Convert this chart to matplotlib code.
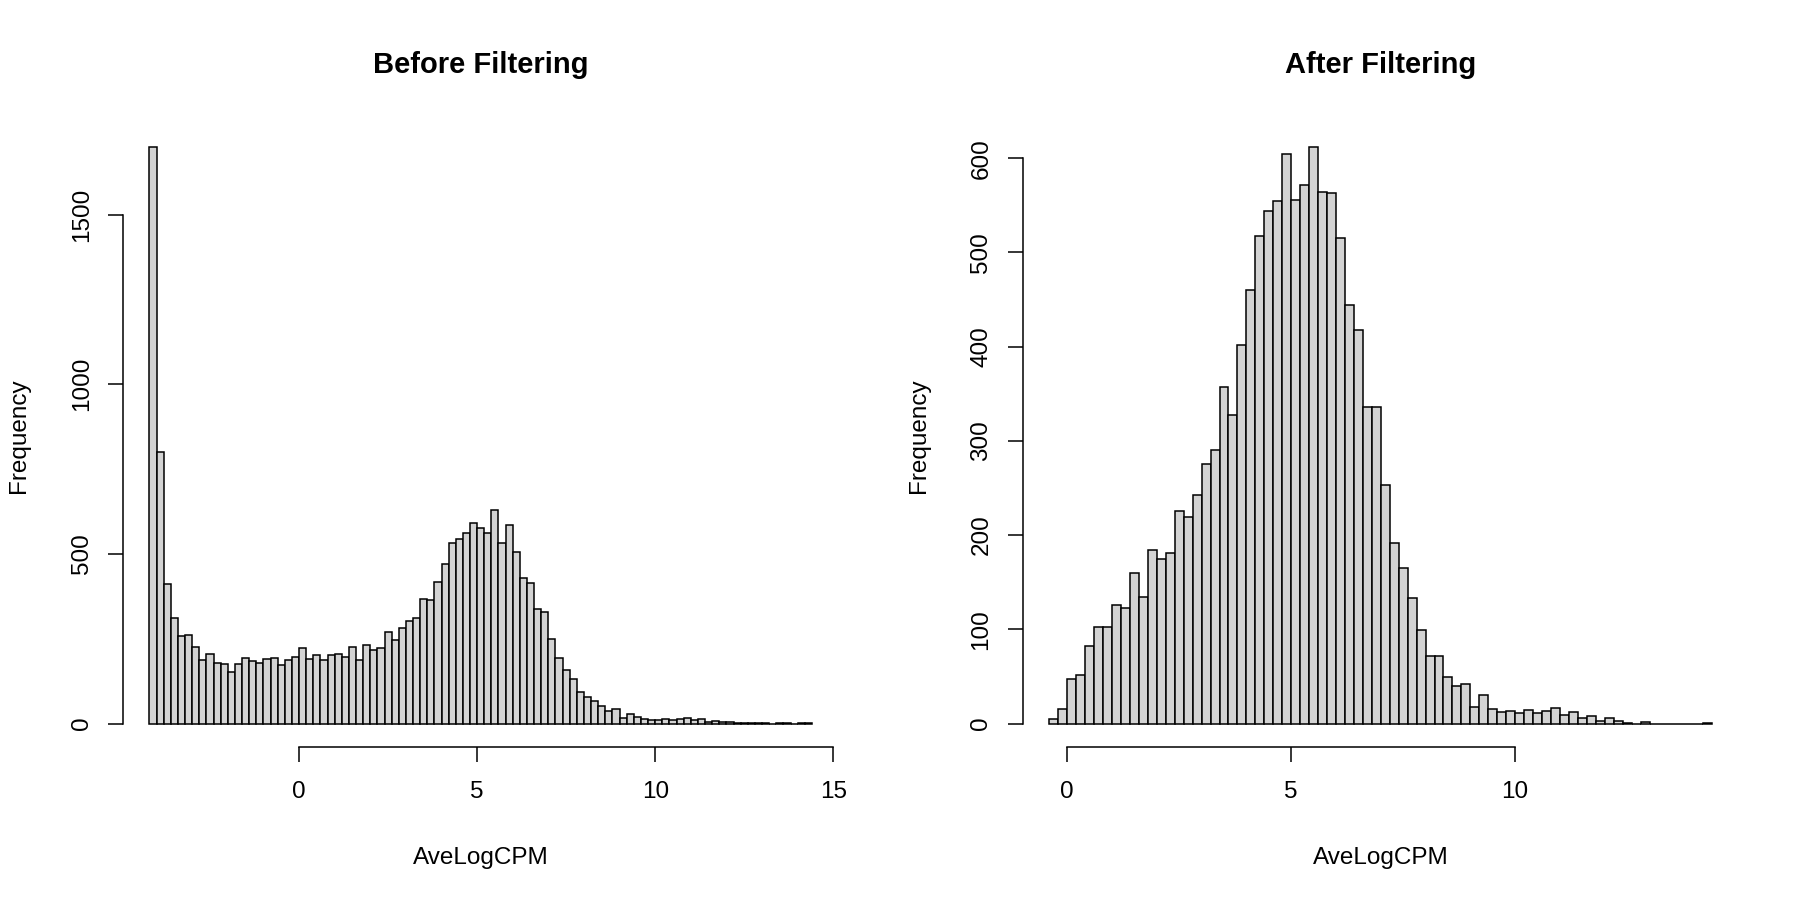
import numpy as np
import matplotlib
matplotlib.use("Agg")
import matplotlib.pyplot as plt

plt.rcParams['font.family'] = ['Liberation Sans', 'DejaVu Sans']

# histogram counts, bins of width 0.2
before_start = -4.2
before_counts = [1700, 800, 412, 312, 257, 260, 227, 188, 205, 178, 175, 151, 177, 192, 183, 180,
                 190, 192, 172, 187, 195, 224, 191, 201, 188, 202, 204, 196, 226, 188, 232, 218,
                 223, 270, 245, 283, 301, 312, 367, 364, 418, 470, 531, 545, 563, 592, 575, 563,
                 630, 533, 584, 505, 429, 415, 338, 330, 249, 193, 159, 131, 94, 77,
                 66, 51, 36, 42, 17, 27, 19, 13, 10, 10, 14, 10, 13, 16, 10, 13, 6, 9, 4, 6,
                 3, 2, 1, 3, 1, 0, 1, 1, 0, 1, 1]

after_start = -0.4
after_counts = [5, 15, 47, 52, 82, 103, 102, 126, 123, 160, 134, 184, 175, 181, 226, 219, 243,
                275, 290, 357, 327, 402, 460, 517, 544, 554, 604, 556, 571, 612, 564, 563, 515,
                444, 418, 336, 336, 253, 192, 165, 133, 99, 72, 72, 49, 40, 42, 18, 30, 15, 12,
                13, 11, 14, 11, 13, 17, 9, 12, 6, 8, 3, 6, 3, 1, 0, 2, 0, 0, 0, 0, 0, 0, 1]

bin_width = 0.2
before_xticks = [0, 5, 10, 15]
before_yticks = [0, 500, 1000, 1500]
after_xticks = [0, 5, 10]
after_yticks = [0, 100, 200, 300, 400, 500, 600]

titles = ["Before Filtering", "After Filtering"]

fig = plt.figure(figsize=(18, 9), dpi=100)
ax1 = fig.add_axes([0.0683, 0.1704, 0.3975, 0.6921])
ax2 = fig.add_axes([0.5682, 0.1704, 0.3978, 0.6921])

panels = [
    (ax1, before_start, before_counts, before_xticks, before_yticks, titles[0]),
    (ax2, after_start, after_counts, after_xticks, after_yticks, titles[1]),
]

for ax, start, counts, xt, yt, title in panels:
    counts = np.array(counts)
    left_edges = start + bin_width * np.arange(len(counts))
    ax.bar(left_edges, counts, width=bin_width, align='edge',
           color='#D3D3D3', edgecolor='black', linewidth=1.1)

    # R style 4% axis extension
    lo, hi = left_edges[0], left_edges[-1] + bin_width
    ext = 0.04 * (hi - lo)
    ax.set_xlim(lo - ext, hi + ext)
    ymax = counts.max()
    ax.set_ylim(-0.04 * ymax, 1.04 * ymax)

    for s in ['top', 'right']:
        ax.spines[s].set_visible(False)
    ax.spines['left'].set_bounds(yt[0], yt[-1])
    ax.spines['bottom'].set_bounds(xt[0], xt[-1])
    ax.spines['left'].set_linewidth(1.1)
    ax.spines['bottom'].set_linewidth(1.1)

    ax.set_xticks(xt)
    ax.set_yticks(yt)
    ax.set_yticklabels([str(v) for v in yt], rotation=90, va='center')
    ax.tick_params(direction='out', length=10.8, width=1.1, labelsize=17.5, pad=11)
    ax.tick_params(axis='x', pad=14)

    ax.set_xlabel("AveLogCPM", fontsize=17.5)
    ax.xaxis.set_label_coords(0.5, -0.179)
    ax.xaxis.label.set_va('center')
    ax.set_ylabel("Frequency", fontsize=17.5)
    ax.yaxis.set_label_coords(-0.145, 0.5)
    ax.yaxis.label.set_va('center')

    ax.set_title(title, fontsize=21, fontweight='bold', pad=36.5)

fig.savefig("out.png", dpi=100)
